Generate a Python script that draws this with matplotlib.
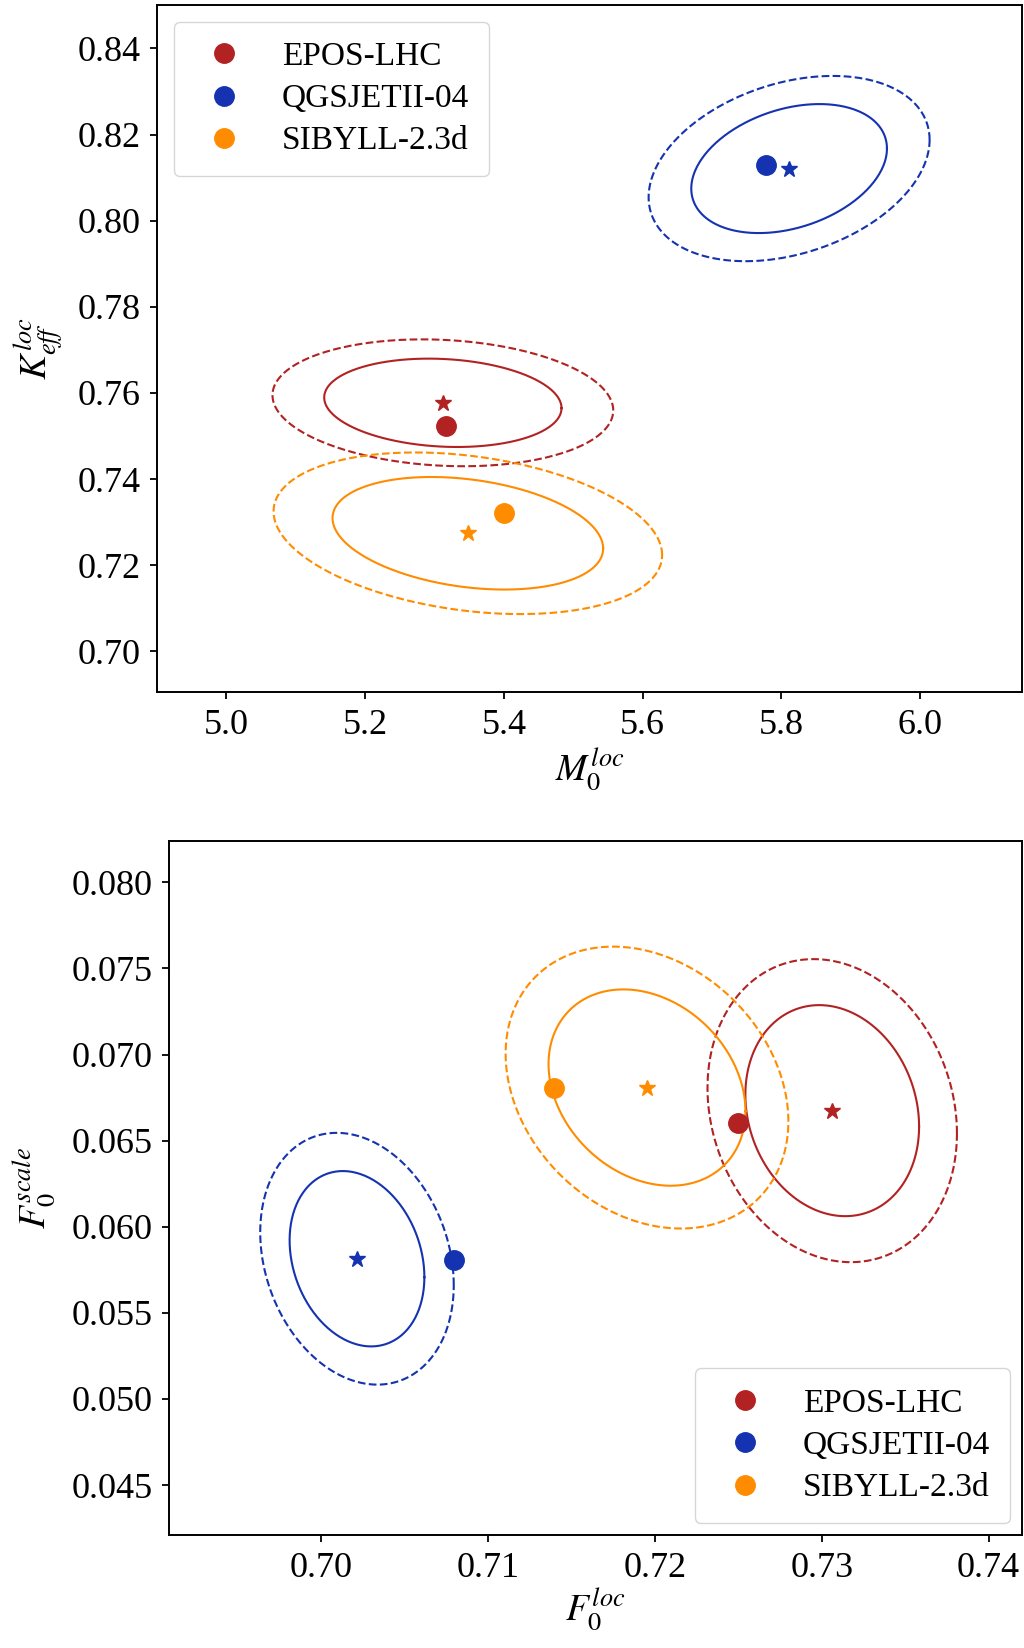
#!/usr/bin/env python3
"""
Best-fit points and confidence ellipses for the three hadronic interaction models
"""

import numpy as np
import matplotlib
matplotlib.use('Agg')
import matplotlib.pyplot as plt

plt.rcParams['font.family'] = 'serif'
plt.rcParams['font.serif'] = ['Liberation Serif', 'DejaVu Serif']
plt.rcParams['mathtext.fontset'] = 'stix'

# Models
models = ['EPOS-LHC', 'QGSJETII-04', 'SIBYLL-2.3d']
colors = ['#B22222', '#1533B0', '#FF8C00']

# Top panel: M0^loc vs K_eff^loc
m0_best = [5.317, 5.777, 5.400]
keff_best = [0.7523, 0.8129, 0.7320]
m0_fit = [5.312, 5.811, 5.348]
keff_fit = [0.7577, 0.8121, 0.7274]
m0_sigma = [0.171, 0.141, 0.195]
keff_sigma = [0.01026, 0.01498, 0.01307]
rho_top = [-0.12, 0.31, -0.27]

# Bottom panel: F0^loc vs F0^scale
f0_best = [0.7250, 0.70795, 0.71394]
fscale_best = [0.06604, 0.05805, 0.06805]
f0_fit = [0.73063, 0.70215, 0.71953]
fscale_fit = [0.06674, 0.05814, 0.06808]
f0_sigma = [0.005205, 0.004038, 0.00590]
fscale_sigma = [0.006128, 0.005091, 0.00570]
rho_bot = [-0.15, -0.21, -0.24]

# contour levels (in units of the inner ellipse) and their line styles
levels = [1.0, 1.436]
level_styles = ['-', '--']


def ellipse_xy(cx, cy, sx, sy, rho, n):
    t = np.linspace(0, 2 * np.pi, 300)
    x = cx + n * sx * np.cos(t)
    y = cy + n * sy * (rho * np.cos(t) + np.sqrt(1 - rho ** 2) * np.sin(t))
    return x, y


def draw_panel(ax, xb, yb, xf, yf, sx, sy, rho):
    for i, name in enumerate(models):
        c = colors[i]
        for n, ls in zip(levels, level_styles):
            ex, ey = ellipse_xy(xf[i], yf[i], sx[i], sy[i], rho[i], n)
            ax.plot(ex, ey, ls=ls, color=c, lw=1.5, zorder=2)
        ax.plot(xb[i], yb[i], 'o', color=c, ms=14, zorder=4,
                linestyle='none', label=name)
        ax.plot(xf[i], yf[i], '*', color=c, ms=12, zorder=4)
    ax.tick_params(labelsize=26, width=1.3, length=5, pad=7)
    for s in ax.spines.values():
        s.set_linewidth(1.4)


def add_legend(ax, loc, pad):
    ax.legend(loc=loc, fontsize=24, handletextpad=0.85,
              borderpad=0.6, labelspacing=0.35, handlelength=1.8,
              borderaxespad=pad)


def main():
    fig = plt.figure(figsize=(10.24, 16.48), dpi=100)

    # ===== Top panel =====
    ax1 = fig.add_axes([0.1533, 0.580, 0.845, 0.417])
    draw_panel(ax1, m0_best, keff_best, m0_fit, keff_fit,
               m0_sigma, keff_sigma, rho_top)
    ax1.set_xlim(4.90, 6.147)
    ax1.set_ylim(0.6905, 0.8501)
    ax1.set_xticks(np.arange(5.0, 6.01, 0.2))
    ax1.set_yticks(np.arange(0.70, 0.841, 0.02))
    ax1.set_xlabel(r'$M_0^{loc}$', fontsize=27, labelpad=4)
    ax1.set_ylabel(r'$K_{eff}^{loc}$', fontsize=27, labelpad=8)
    add_legend(ax1, 'upper left', 0.5)

    # ===== Bottom panel =====
    ax2 = fig.add_axes([0.1653, 0.0686, 0.8327, 0.4211])
    draw_panel(ax2, f0_best, fscale_best, f0_fit, fscale_fit,
               f0_sigma, fscale_sigma, rho_bot)
    ax2.set_xlim(0.6909, 0.742)
    ax2.set_ylim(0.0421, 0.0824)
    ax2.set_xticks(np.arange(0.70, 0.7401, 0.01))
    ax2.set_yticks(np.arange(0.045, 0.0801, 0.005))
    ax2.set_xlabel(r'$F_0^{loc}$', fontsize=27, labelpad=2)
    ax2.set_ylabel(r'$F_0^{scale}$', fontsize=27, labelpad=10)
    add_legend(ax2, 'lower right', 0.35)

    fig.savefig('out.png', dpi=100)
    plt.close(fig)


if __name__ == "__main__":
    main()
